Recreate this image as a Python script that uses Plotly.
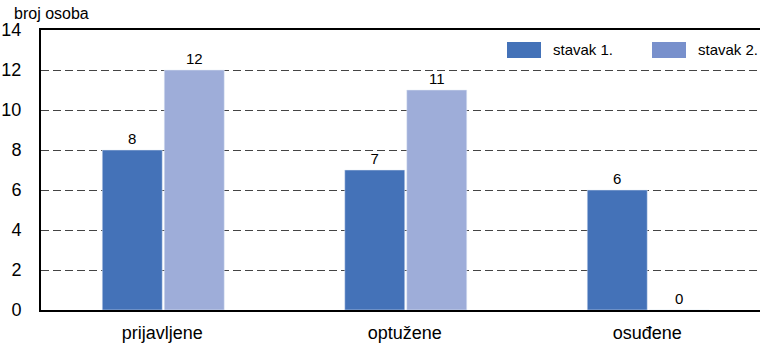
import plotly.graph_objects as go

categories = ["prijavljene", "optužene", "osuđene"]
stavak1 = [8, 7, 6]
stavak2 = [12, 11, 0]
series_names = ["stavak 1.", "stavak 2."]
y_ticks = [0, 2, 4, 6, 8, 10, 12, 14]

C1 = "#4472B8"
C2 = "#9EADD9"
L2 = "#7890CC"
FONT = "Liberation Sans, Arial, sans-serif"

px_per_cat = 242.5
bw = 60 / px_per_cat
gap = 2 / px_per_cat

fig = go.Figure()
fig.add_bar(x=categories, y=stavak1, name=series_names[0], marker_color=C1,
            width=bw, offset=-bw, text=[str(v) for v in stavak1],
            textposition="outside", cliponaxis=False,
            textfont=dict(size=15, color="black", family=FONT), showlegend=False)
fig.add_bar(x=categories, y=stavak2, name=series_names[1], marker_color=C2,
            width=bw, offset=gap, text=[str(v) for v in stavak2],
            textposition="outside", cliponaxis=False,
            textfont=dict(size=15, color="black", family=FONT), showlegend=False)

plot_w = 760 - 41
fig.update_layout(
    width=760, height=349,
    margin=dict(l=41, r=0, t=30, b=39, autoexpand=False),
    plot_bgcolor="white", paper_bgcolor="white",
    barmode="overlay",
    font=dict(family=FONT, size=18, color="black"),
    xaxis=dict(range=[-0.5, -0.5 + plot_w / px_per_cat], showline=True,
               linecolor="black", linewidth=2, mirror=True, ticks="",
               tickfont=dict(size=18), showgrid=False, automargin=False,
               ticklabelstandoff=5),
    yaxis=dict(range=[0, 14], tickvals=y_ticks, showline=True, linecolor="black",
               linewidth=2, showgrid=True, gridcolor="#444444", griddash="8px,4px",
               gridwidth=1, ticks="", tickfont=dict(size=18), zeroline=False,
               ticklabelstandoff=14, automargin=False),
)

def px_to_paper_x(px):
    return (px - 41) / plot_w

def px_to_paper_y(py):
    return (310 - py) / 280

# legend drawn manually
legend_items = [(507, C1, series_names[0]), (652, L2, series_names[1])]
for x0, col, name in legend_items:
    fig.add_shape(type="rect", xref="paper", yref="paper",
                  x0=px_to_paper_x(x0), x1=px_to_paper_x(x0 + 34),
                  y0=px_to_paper_y(58), y1=px_to_paper_y(42),
                  fillcolor=col, line=dict(width=0))
    fig.add_annotation(xref="paper", yref="paper", x=px_to_paper_x(x0 + 44),
                       y=px_to_paper_y(50), text=name, showarrow=False,
                       xanchor="left", yanchor="middle", font=dict(size=15))

fig.add_annotation(xref="paper", yref="paper", x=px_to_paper_x(12),
                   y=px_to_paper_y(14), text="broj osoba", showarrow=False,
                   xanchor="left", yanchor="middle", font=dict(size=16))

fig.write_html("out.html", post_script="document.body.style.margin='0';",
               config={"displayModeBar": False})
